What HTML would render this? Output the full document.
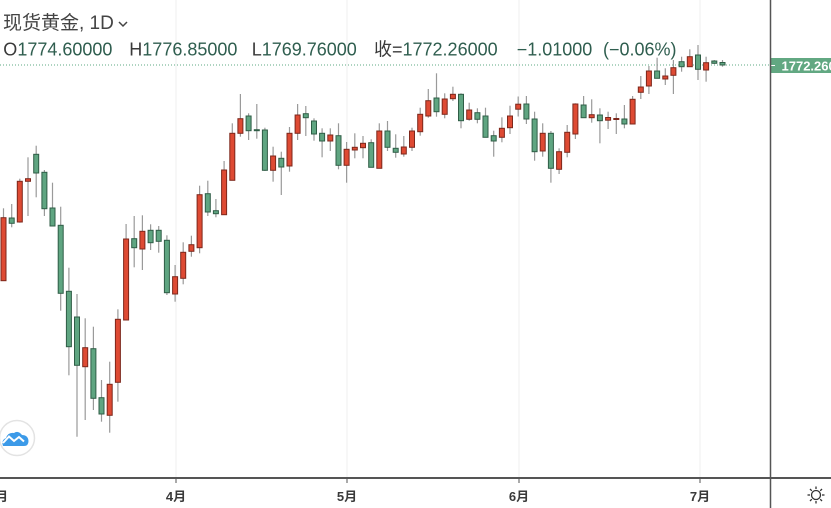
<!DOCTYPE html>
<html>
<head>
<meta charset="utf-8">
<style>
html,body{margin:0;padding:0;background:#fff;}
body{width:831px;height:508px;overflow:hidden;}
svg{display:block;}
.w{stroke:#9a9a9a;stroke-width:1.2;}
.r{fill:#de4a33;stroke:#7d271b;stroke-width:1;}
.g{fill:#5fa581;stroke:#2f5d46;stroke-width:1;}
.grid{stroke:#efefef;stroke-width:1;}
.t{font-family:"Liberation Sans","Noto Sans CJK SC",sans-serif;}
</style>
</head>
<body>
<svg width="831" height="508" viewBox="0 0 831 508" xmlns="http://www.w3.org/2000/svg">
<rect x="0" y="0" width="831" height="508" fill="#fff"/>
<line class="grid" x1="176" y1="0" x2="176" y2="477"/>
<line class="grid" x1="347" y1="0" x2="347" y2="477"/>
<line class="grid" x1="519" y1="0" x2="519" y2="477"/>
<line class="grid" x1="700" y1="0" x2="700" y2="477"/>

<line x1="0" y1="65" x2="770" y2="65" stroke="#5ea883" stroke-width="1" stroke-dasharray="1,2"/>

<g>
<line class="w" x1="3.5" y1="208.3" x2="3.5" y2="281"/><rect class="r" x="1" y="217.7" width="5" height="63"/>
<line class="w" x1="11.7" y1="204" x2="11.7" y2="227.3"/><rect class="g" x="9.2" y="218" width="5" height="5.3"/>
<line class="w" x1="19.8" y1="178.7" x2="19.8" y2="222.7"/><rect class="r" x="17.3" y="181.3" width="5" height="40.7"/>
<line class="w" x1="28" y1="157.3" x2="28" y2="216"/><rect class="r" x="25.5" y="178.7" width="5" height="2.6"/>
<line class="w" x1="36.2" y1="145.7" x2="36.2" y2="197.3"/><rect class="g" x="33.7" y="154.3" width="5" height="18.7"/>
<line class="w" x1="44.4" y1="170" x2="44.4" y2="216"/><rect class="g" x="41.9" y="172.3" width="5" height="36.4"/>
<line class="w" x1="52.5" y1="182.7" x2="52.5" y2="226"/><rect class="g" x="50" y="208" width="5" height="18"/>
<line class="w" x1="60.7" y1="206.7" x2="60.7" y2="310.7"/><rect class="g" x="58.2" y="225.3" width="5" height="68"/>
<line class="w" x1="68.9" y1="267.7" x2="68.9" y2="375.3"/><rect class="g" x="66.4" y="291.3" width="5" height="55.4"/>
<line class="w" x1="77" y1="294" x2="77" y2="436.7"/><rect class="g" x="74.5" y="317" width="5" height="48.3"/>
<line class="w" x1="85.2" y1="318.3" x2="85.2" y2="420"/><rect class="r" x="82.7" y="347.7" width="5" height="19"/>
<line class="w" x1="93.4" y1="326.7" x2="93.4" y2="410"/><rect class="g" x="90.9" y="348.7" width="5" height="49.6"/>
<line class="w" x1="101.5" y1="380" x2="101.5" y2="421.7"/><rect class="g" x="99" y="397.7" width="5" height="16.3"/>
<line class="w" x1="109.7" y1="361.7" x2="109.7" y2="432.7"/><rect class="r" x="107.2" y="384.3" width="5" height="31"/>
<line class="w" x1="117.9" y1="309.3" x2="117.9" y2="401.7"/><rect class="r" x="115.4" y="319.3" width="5" height="63"/>
<line class="w" x1="126.1" y1="224" x2="126.1" y2="320"/><rect class="r" x="123.6" y="239" width="5" height="81"/>
<line class="w" x1="134.2" y1="216" x2="134.2" y2="267.3"/><rect class="g" x="131.7" y="238.7" width="5" height="9"/>
<line class="w" x1="142.4" y1="215.3" x2="142.4" y2="270"/><rect class="r" x="139.9" y="231.3" width="5" height="17.7"/>
<line class="w" x1="150.6" y1="224.3" x2="150.6" y2="250"/><rect class="g" x="148.1" y="230.3" width="5" height="12.4"/>
<line class="w" x1="158.7" y1="226" x2="158.7" y2="252.7"/><rect class="g" x="156.2" y="230.3" width="5" height="11"/>
<line class="w" x1="166.9" y1="235.3" x2="166.9" y2="295"/><rect class="g" x="164.4" y="240.3" width="5" height="52.4"/>
<line class="w" x1="175.1" y1="265" x2="175.1" y2="301.7"/><rect class="r" x="172.6" y="276.7" width="5" height="17.3"/>
<line class="w" x1="183.2" y1="242.3" x2="183.2" y2="284.3"/><rect class="r" x="180.7" y="252.3" width="5" height="26"/>
<line class="w" x1="191.4" y1="235.7" x2="191.4" y2="256.7"/><rect class="r" x="188.9" y="244.7" width="5" height="6.6"/>
<line class="w" x1="199.6" y1="185.7" x2="199.6" y2="253.3"/><rect class="r" x="197.1" y="194.7" width="5" height="53"/>
<line class="w" x1="207.8" y1="180.7" x2="207.8" y2="216"/><rect class="g" x="205.3" y="193.7" width="5" height="18.3"/>
<line class="w" x1="215.9" y1="199" x2="215.9" y2="217.3"/><rect class="g" x="213.4" y="210.7" width="5" height="3"/>
<line class="w" x1="224.1" y1="161" x2="224.1" y2="214.7"/><rect class="r" x="221.6" y="170" width="5" height="44.7"/>
<line class="w" x1="232.3" y1="123.3" x2="232.3" y2="180.3"/><rect class="r" x="229.8" y="133.3" width="5" height="47"/>
<line class="w" x1="240.4" y1="94" x2="240.4" y2="136.7"/><rect class="r" x="237.9" y="118.7" width="5" height="14.6"/>
<line class="w" x1="248.6" y1="113.3" x2="248.6" y2="140"/><rect class="g" x="246.1" y="116" width="5" height="14.7"/>
<line class="w" x1="256.8" y1="104" x2="256.8" y2="138.7"/><rect class="g" x="254.3" y="129.7" width="5" height="1"/>
<line class="w" x1="264.9" y1="127.7" x2="264.9" y2="171"/><rect class="g" x="262.4" y="130" width="5" height="40.3"/>
<line class="w" x1="273.1" y1="146.7" x2="273.1" y2="181.7"/><rect class="r" x="270.6" y="156" width="5" height="14.3"/>
<line class="w" x1="281.3" y1="151.7" x2="281.3" y2="195"/><rect class="g" x="278.8" y="158.3" width="5" height="8.7"/>
<line class="w" x1="289.5" y1="127" x2="289.5" y2="171.7"/><rect class="r" x="287" y="133.3" width="5" height="32.7"/>
<line class="w" x1="297.6" y1="104" x2="297.6" y2="140"/><rect class="r" x="295.1" y="115" width="5" height="18.3"/>
<line class="w" x1="305.8" y1="106" x2="305.8" y2="136"/><rect class="g" x="303.3" y="113.7" width="5" height="4"/>
<line class="w" x1="314" y1="118.3" x2="314" y2="140.7"/><rect class="g" x="311.5" y="121" width="5" height="13"/>
<line class="w" x1="322.1" y1="128.3" x2="322.1" y2="157.3"/><rect class="g" x="319.6" y="133.3" width="5" height="7.7"/>
<line class="w" x1="330.3" y1="128.3" x2="330.3" y2="151"/><rect class="r" x="327.8" y="135" width="5" height="6"/>
<line class="w" x1="338.5" y1="123.3" x2="338.5" y2="169.3"/><rect class="g" x="336" y="135.7" width="5" height="29.6"/>
<line class="w" x1="346.6" y1="142" x2="346.6" y2="182.7"/><rect class="r" x="344.1" y="149.3" width="5" height="16"/>
<line class="w" x1="354.8" y1="133.3" x2="354.8" y2="158.3"/><rect class="r" x="352.3" y="147.3" width="5" height="2.7"/>
<line class="w" x1="363" y1="136" x2="363" y2="158.3"/><rect class="r" x="360.5" y="143.3" width="5" height="4.4"/>
<line class="w" x1="371.2" y1="139.3" x2="371.2" y2="167.3"/><rect class="g" x="368.7" y="142.7" width="5" height="24.6"/>
<line class="w" x1="379.3" y1="123.3" x2="379.3" y2="168.3"/><rect class="r" x="376.8" y="131" width="5" height="37.3"/>
<line class="w" x1="387.5" y1="121" x2="387.5" y2="151"/><rect class="g" x="385" y="131" width="5" height="16.3"/>
<line class="w" x1="395.7" y1="134.3" x2="395.7" y2="157.7"/><rect class="g" x="393.2" y="148.3" width="5" height="4"/>
<line class="w" x1="403.8" y1="136" x2="403.8" y2="156.7"/><rect class="r" x="401.3" y="147" width="5" height="7"/>
<line class="w" x1="412" y1="127.7" x2="412" y2="151"/><rect class="r" x="409.5" y="131" width="5" height="16.3"/>
<line class="w" x1="420.2" y1="107.7" x2="420.2" y2="135.7"/><rect class="r" x="417.7" y="114.3" width="5" height="17.4"/>
<line class="w" x1="428.3" y1="89" x2="428.3" y2="117.7"/><rect class="r" x="425.8" y="100.7" width="5" height="15.3"/>
<line class="w" x1="436.5" y1="73.3" x2="436.5" y2="116.7"/><rect class="g" x="434" y="98" width="5" height="13.7"/>
<line class="w" x1="444.7" y1="93.3" x2="444.7" y2="118.3"/><rect class="r" x="442.2" y="99" width="5" height="15.3"/>
<line class="w" x1="452.9" y1="86.7" x2="452.9" y2="101"/><rect class="r" x="450.4" y="94.3" width="5" height="4.4"/>
<line class="w" x1="461" y1="93.3" x2="461" y2="128.3"/><rect class="g" x="458.5" y="94.3" width="5" height="26.4"/>
<line class="w" x1="469.2" y1="102.7" x2="469.2" y2="120.7"/><rect class="r" x="466.7" y="110" width="5" height="9.3"/>
<line class="w" x1="477.4" y1="108.3" x2="477.4" y2="123.3"/><rect class="g" x="474.9" y="112.7" width="5" height="6.6"/>
<line class="w" x1="485.5" y1="107.7" x2="485.5" y2="137.3"/><rect class="g" x="483" y="116" width="5" height="21.3"/>
<line class="w" x1="493.7" y1="130.7" x2="493.7" y2="156.7"/><rect class="g" x="491.2" y="135.7" width="5" height="5.3"/>
<line class="w" x1="501.9" y1="117.3" x2="501.9" y2="142.3"/><rect class="r" x="499.4" y="128.3" width="5" height="9"/>
<line class="w" x1="510" y1="105.7" x2="510" y2="134"/><rect class="r" x="507.5" y="116" width="5" height="11.7"/>
<line class="w" x1="518.2" y1="96.5" x2="518.2" y2="116.5"/><rect class="r" x="515.7" y="104.2" width="5" height="5"/>
<line class="w" x1="526.4" y1="96" x2="526.4" y2="124"/><rect class="g" x="523.9" y="104" width="5" height="15"/>
<line class="w" x1="534.6" y1="111.7" x2="534.6" y2="160.7"/><rect class="g" x="532.1" y="119" width="5" height="32.7"/>
<line class="w" x1="542.7" y1="123.3" x2="542.7" y2="156.7"/><rect class="r" x="540.2" y="133.3" width="5" height="17.7"/>
<line class="w" x1="550.9" y1="131" x2="550.9" y2="182.7"/><rect class="g" x="548.4" y="133.3" width="5" height="35"/>
<line class="w" x1="559.1" y1="148.3" x2="559.1" y2="174"/><rect class="r" x="556.6" y="151.7" width="5" height="17.6"/>
<line class="w" x1="567.2" y1="125" x2="567.2" y2="157.3"/><rect class="r" x="564.7" y="132.3" width="5" height="20"/>
<line class="w" x1="575.4" y1="103.3" x2="575.4" y2="139"/><rect class="r" x="572.9" y="104" width="5" height="30"/>
<line class="w" x1="583.6" y1="96" x2="583.6" y2="117.7"/><rect class="g" x="581.1" y="105" width="5" height="12.7"/>
<line class="w" x1="591.7" y1="99.3" x2="591.7" y2="122.7"/><rect class="r" x="589.2" y="114.7" width="5" height="3"/>
<line class="w" x1="599.9" y1="108.3" x2="599.9" y2="143.3"/><rect class="g" x="597.4" y="115" width="5" height="5.7"/>
<line class="w" x1="608.1" y1="111.7" x2="608.1" y2="129"/><rect class="r" x="605.6" y="117.5" width="5" height="2.7"/>
<line class="w" x1="616.3" y1="113.3" x2="616.3" y2="134"/><rect class="r" x="613.8" y="118.5" width="5" height="1"/>
<line class="w" x1="624.4" y1="105" x2="624.4" y2="128.3"/><rect class="g" x="621.9" y="119" width="5" height="5"/>
<line class="w" x1="632.6" y1="96" x2="632.6" y2="124"/><rect class="r" x="630.1" y="99.3" width="5" height="24.7"/>
<line class="w" x1="640.8" y1="76" x2="640.8" y2="99"/><rect class="r" x="638.3" y="87" width="5" height="5.3"/>
<line class="w" x1="648.9" y1="66" x2="648.9" y2="94"/><rect class="r" x="646.4" y="71" width="5" height="15"/>
<line class="w" x1="657.1" y1="57.7" x2="657.1" y2="78.3"/><rect class="g" x="654.6" y="71" width="5" height="7.3"/>
<line class="w" x1="665.3" y1="68.3" x2="665.3" y2="85"/><rect class="r" x="662.8" y="76" width="5" height="3"/>
<line class="w" x1="673.4" y1="60" x2="673.4" y2="94"/><rect class="r" x="670.9" y="67.7" width="5" height="7.6"/>
<line class="w" x1="681.6" y1="56.7" x2="681.6" y2="71.7"/><rect class="g" x="679.1" y="61.7" width="5" height="5"/>
<line class="w" x1="689.8" y1="49.3" x2="689.8" y2="66.7"/><rect class="r" x="687.3" y="56.7" width="5" height="10"/>
<line class="w" x1="698" y1="45" x2="698" y2="80"/><rect class="g" x="695.5" y="55" width="5" height="14.3"/>
<line class="w" x1="706.1" y1="56.7" x2="706.1" y2="81.7"/><rect class="r" x="703.6" y="62.7" width="5" height="7.3"/>
<line class="w" x1="714.3" y1="60" x2="714.3" y2="64"/><rect class="g" x="711.8" y="61" width="5" height="2.3"/>
<line class="w" x1="722.5" y1="60" x2="722.5" y2="66.7"/><rect class="g" x="720" y="62.5" width="5" height="2.5"/>
</g>

<text class="t" x="3" y="29" font-size="19" fill="#444">现货黄金, 1D</text>
<polyline points="119,22 123,26 127,22" fill="none" stroke="#444" stroke-width="1.5"/>
<text class="t" y="55.5" font-size="18">
<tspan x="3.3" fill="#3a3a3a">O</tspan><tspan fill="#2f5e4f">1774.60000</tspan>
<tspan x="129.3" fill="#3a3a3a">H</tspan><tspan fill="#2f5e4f">1776.85000</tspan>
<tspan x="251.7" fill="#3a3a3a">L</tspan><tspan fill="#2f5e4f">1769.76000</tspan>
<tspan x="374" fill="#3a3a3a">收=</tspan><tspan fill="#2f5e4f">1772.26000</tspan>
<tspan x="516.7" fill="#2f5e4f">−1.01000</tspan>
<tspan x="603" fill="#2f5e4f">(−0.06%)</tspan>
</text>

<rect x="770" y="58" width="61" height="15" fill="#62a882"/>
<line x1="771" y1="65.5" x2="775" y2="65.5" stroke="#fff" stroke-width="1"/>
<text class="t" x="781.5" y="70.5" font-size="13" font-weight="bold" fill="#fff">1772.26000</text>

<line x1="770.5" y1="0" x2="770.5" y2="508" stroke="#555" stroke-width="1.5"/>
<line x1="0" y1="478" x2="831" y2="478" stroke="#555" stroke-width="2"/>
<line x1="176" y1="479" x2="176" y2="483" stroke="#555" stroke-width="1"/>
<line x1="347" y1="479" x2="347" y2="483" stroke="#555" stroke-width="1"/>
<line x1="519" y1="479" x2="519" y2="483" stroke="#555" stroke-width="1"/>
<line x1="700" y1="479" x2="700" y2="483" stroke="#555" stroke-width="1"/>

<g class="t" font-size="13" font-weight="bold" fill="#3a3a3a" text-anchor="middle">
<text x="-2" y="501">3月</text>
<text x="176" y="501">4月</text>
<text x="347" y="501">5月</text>
<text x="519" y="501">6月</text>
<text x="700" y="501">7月</text>
</g>

<g stroke="#333" stroke-width="1.3" fill="none">
<circle cx="816" cy="495" r="4.5"/>
<line x1="816" y1="486.5" x2="816" y2="489"/>
<line x1="816" y1="501" x2="816" y2="503.5"/>
<line x1="807.5" y1="495" x2="810" y2="495"/>
<line x1="822" y1="495" x2="824.5" y2="495"/>
<line x1="810" y1="489" x2="811.8" y2="490.8"/>
<line x1="820.2" y1="499.2" x2="822" y2="501"/>
<line x1="822" y1="489" x2="820.2" y2="490.8"/>
<line x1="811.8" y1="499.2" x2="810" y2="501"/>
</g>

<circle cx="17" cy="438" r="17.5" fill="#fff" stroke="#e3e3e3" stroke-width="1.5"/>
<path d="M3,446 Q1,440 6,438 Q8,432 14,433 Q18,430 22,435 Q28,435 28.5,441 Q28.5,446 24,446 Z" fill="#3c9ae8"/>
<polyline points="3,443 9,436.5 14,441 19,437 24,441.5" fill="none" stroke="#fff" stroke-width="2"/>
</svg>
</body>
</html>
